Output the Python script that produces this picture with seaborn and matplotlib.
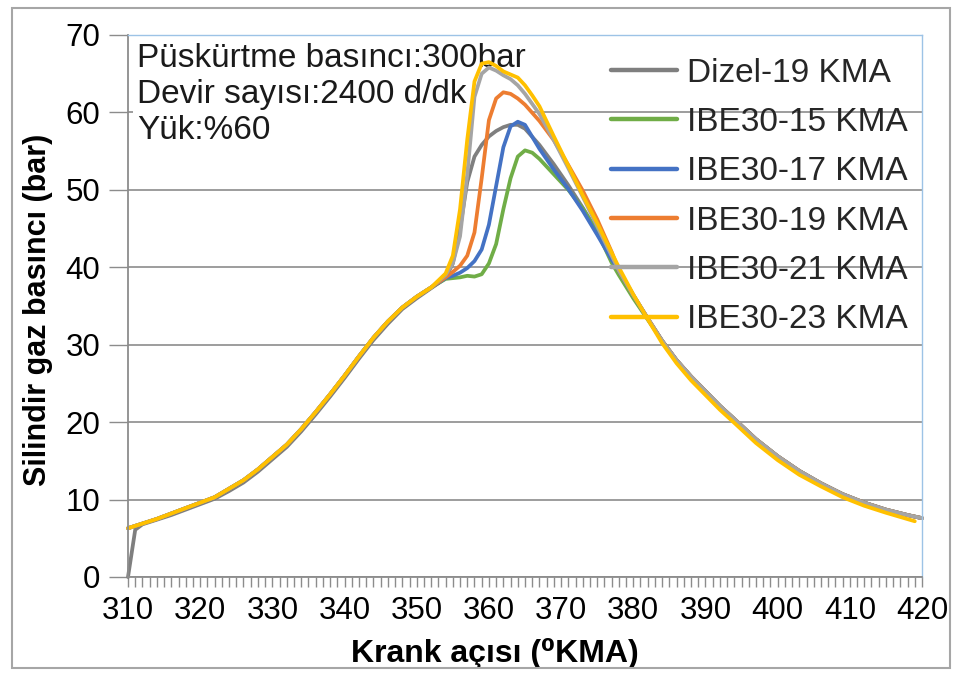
import numpy as np
import pandas as pd
import matplotlib
matplotlib.use("Agg")
import matplotlib.pyplot as plt
import seaborn as sns
from matplotlib.ticker import MultipleLocator
from matplotlib.patches import Rectangle

# ---------------- data ----------------
series_names = ["Dizel-19 KMA", "IBE30-15 KMA", "IBE30-17 KMA",
                "IBE30-19 KMA", "IBE30-21 KMA", "IBE30-23 KMA"]
series_colors = ["#7f7f7f", "#70ad47", "#4472c4", "#ed7d31", "#a5a5a5", "#ffc000"]

# compression stroke (shared by the IBE30 series)
rise_x = [310, 312, 314, 316, 318, 320, 322, 324, 326, 328, 330, 332, 334,
          336, 338, 340, 342, 344, 346, 348, 350, 352]
rise_y = [6.3, 6.9, 7.5, 8.2, 8.9, 9.6, 10.3, 11.4, 12.5, 13.9, 15.5, 17.1,
          19.1, 21.3, 23.6, 26.0, 28.5, 30.9, 33.0, 34.8, 36.2, 37.4]
dizel_rise_x = [310, 311, 312, 314, 316, 318, 320, 322, 324, 326, 328, 330,
                332, 334, 336, 338, 340, 342, 344, 346, 348, 350, 352]
dizel_rise_y = [0.0, 6.1, 6.8, 7.4, 8.0, 8.7, 9.4, 10.1, 11.1, 12.2, 13.6,
                15.2, 16.8, 18.8, 21.0, 23.3, 25.7, 28.2, 30.6, 32.7, 34.6,
                36.0, 37.3]

# expansion stroke
fall_x = [378, 380, 382, 384, 386, 388, 390, 392, 394, 397, 400, 403, 406,
          409, 412, 415, 418, 420]
fall_y = [39.6, 36.4, 33.4, 30.5, 28.0, 25.9, 24.0, 22.1, 20.4, 17.8, 15.6,
          13.7, 12.1, 10.7, 9.6, 8.7, 8.0, 7.6]
ibe23_fall_x = [378, 380, 382, 384, 386, 388, 390, 392, 394, 397, 400, 403,
                406, 409, 412, 415, 419]
ibe23_fall_y = [40.0, 36.5, 33.3, 30.2, 27.6, 25.4, 23.5, 21.6, 19.9, 17.3,
                15.1, 13.2, 11.7, 10.3, 9.2, 8.3, 7.2]

# combustion region, per series
dizel_peak_x = [354, 355, 356, 357, 358, 359, 360, 361, 362, 363, 364, 365,
                367, 369, 371, 373, 375, 377]
dizel_peak_y = [38.6, 40.5, 45.0, 51.0, 54.3, 55.8, 56.9, 57.6, 58.1, 58.4,
                58.4, 57.9, 55.8, 53.3, 50.6, 47.7, 44.6, 41.3]
ibe15_peak_x = [354, 355, 356, 357, 358, 359, 360, 361, 362, 363, 364, 365,
                366, 367, 369, 371, 373, 375, 377, 378, 380]
ibe15_peak_y = [38.5, 38.6, 38.7, 38.9, 38.8, 39.1, 40.5, 43.0, 47.5, 51.5,
                54.3, 55.1, 54.8, 54.0, 52.0, 50.0, 47.6, 44.6, 40.6, 39.0,
                36.0]
ibe17_peak_x = [354, 355, 356, 357, 358, 359, 360, 361, 362, 363, 364, 365,
                367, 369, 371, 373, 375, 377]
ibe17_peak_y = [38.6, 38.9, 39.3, 39.9, 40.8, 42.3, 45.5, 50.5, 55.5, 58.2,
                58.8, 58.4, 55.3, 52.6, 50.1, 47.3, 44.2, 41.0]
ibe19_peak_x = [354, 355, 356, 357, 358, 359, 360, 361, 362, 363, 364, 365,
                367, 369, 371, 373, 375, 377]
ibe19_peak_y = [38.7, 39.4, 40.2, 41.5, 44.5, 51.5, 59.0, 61.8, 62.6, 62.4,
                61.8, 61.0, 58.9, 56.4, 53.2, 49.9, 46.2, 42.0]
ibe21_peak_x = [354, 355, 356, 357, 358, 359, 360, 361, 362, 363, 364, 365,
                367, 369, 371, 373, 375, 377]
ibe21_peak_y = [39.0, 40.5, 44.0, 52.0, 62.0, 65.0, 65.8, 65.4, 64.8, 64.3,
                63.5, 62.4, 59.8, 56.4, 52.8, 49.1, 45.3, 41.5]
ibe23_peak_x = [354, 355, 356, 357, 358, 359, 360, 361, 362, 363, 364, 365,
                366, 367, 369, 371, 373, 375, 377]
ibe23_peak_y = [39.2, 41.5, 47.5, 56.5, 64.0, 66.3, 66.5, 66.0, 65.3, 64.9,
                64.5, 63.5, 62.2, 60.8, 56.9, 53.1, 49.3, 45.7, 41.9]

x_ticks = [310, 320, 330, 340, 350, 360, 370, 380, 390, 400, 410, 420]
y_ticks = [0, 10, 20, 30, 40, 50, 60, 70]
note_lines = ["Püskürtme basıncı:300bar", "Devir sayısı:2400 d/dk", "Yük:%60"]

# ---------------- assemble long table ----------------
parts = [
    (series_names[0], dizel_rise_x + dizel_peak_x + fall_x,
     dizel_rise_y + dizel_peak_y + fall_y),
    (series_names[1], rise_x + ibe15_peak_x + fall_x[3:],
     rise_y + ibe15_peak_y + fall_y[3:]),
    (series_names[2], rise_x + ibe17_peak_x + fall_x,
     rise_y + ibe17_peak_y + fall_y),
    (series_names[3], rise_x + ibe19_peak_x + fall_x,
     rise_y + ibe19_peak_y + fall_y),
    (series_names[4], rise_x + ibe21_peak_x + fall_x,
     rise_y + ibe21_peak_y + fall_y),
    (series_names[5], rise_x + ibe23_peak_x + ibe23_fall_x,
     rise_y + ibe23_peak_y + ibe23_fall_y),
]
frames = []
for name, xs, ys in parts:
    frames.append(pd.DataFrame({"angle": xs, "pressure": ys, "series": name}))
df = pd.concat(frames, ignore_index=True)

# ---------------- figure ----------------
sns.set_theme(style="ticks")
plt.rcParams["font.family"] = ["Liberation Sans", "DejaVu Sans"]

W, H = 960, 677
fig = plt.figure(figsize=(W / 100, H / 100), dpi=100)
fig.patch.set_facecolor("white")
ax = fig.add_axes([128 / W, 1 - 577 / H, 794 / W, 542 / H])

sns.lineplot(data=df, x="angle", y="pressure", hue="series",
             hue_order=series_names, palette=dict(zip(series_names, series_colors)),
             sort=False, estimator=None, linewidth=2.7, ax=ax)

ax.set_xlim(310, 420)
ax.set_ylim(0, 70)
ax.set_xticks(x_ticks)
ax.set_yticks(y_ticks)
ax.xaxis.set_minor_locator(MultipleLocator(1))
ax.set_axisbelow(True)
ax.grid(axis="y", color="#8c8c8c", linewidth=1.2)
for l in ax.lines:
    l.set_clip_on(False)
    l.set_solid_joinstyle("round")
    l.set_solid_capstyle("round")

for side in ["left", "bottom"]:
    ax.spines[side].set_color("#8c8c8c")
    ax.spines[side].set_linewidth(1.3)
for side in ["top", "right"]:
    ax.spines[side].set_visible(True)
    ax.spines[side].set_color("#9dc3e6")
    ax.spines[side].set_linewidth(1.0)

ax.tick_params(axis="x", which="both", direction="out", length=7, width=1,
               color="#8c8c8c", labelsize=22.5, labelcolor="black", pad=7,
               bottom=True)
ax.tick_params(axis="y", which="major", direction="out", length=14, width=1,
               color="#8c8c8c", labelsize=22.5, labelcolor="black", pad=6,
               left=True)
ax.tick_params(axis="y", which="minor", left=False)

ax.set_xlabel("Krank açısı (⁰KMA)", fontsize=23, fontweight="bold", color="black")
ax.set_ylabel("Silindir gaz basıncı (bar)", fontsize=22, fontweight="bold",
              color="black")
ax.xaxis.set_label_coords(0.462, -0.112)
ax.yaxis.set_label_coords(-0.094, 0.493)

ax.text(0.0113, 0.985, "\n".join(note_lines), transform=ax.transAxes,
        ha="left", va="top", fontsize=24, color="#1a1a1a", linespacing=1.2,
        zorder=1.5,
        bbox=dict(boxstyle="square,pad=0.12", fc="white", ec="none"))

handles, labels = ax.get_legend_handles_labels()
for h in handles:
    h.set_linewidth(3.2)
ax.legend(handles, labels, loc="upper left", bbox_to_anchor=(0.608, 0.958),
          frameon=False, fontsize=24, handlelength=2.0, handletextpad=0.28,
          labelspacing=0.55, borderpad=0, borderaxespad=0)

fig.patches.append(Rectangle((12 / W, 1 - 668 / H), (950 - 12) / W, (668 - 8) / H,
                             transform=fig.transFigure, fill=False,
                             ec="#a6a6a6", lw=1.5))

fig.savefig("out.png", dpi=100)
